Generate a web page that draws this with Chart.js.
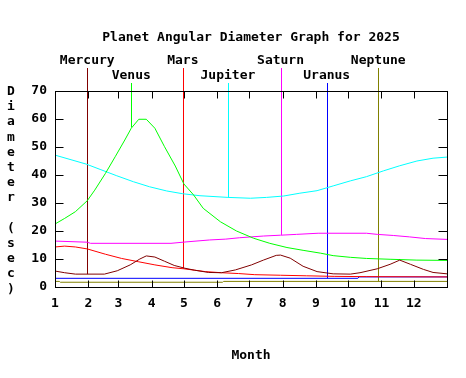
<!DOCTYPE html>
<html><head><meta charset="utf-8">
<script src="https://cdn.jsdelivr.net/npm/chart.js@4.4.1/dist/chart.umd.min.js"></script>
<style>html,body{margin:0;padding:0;background:#fff;}canvas{display:block;}</style>
</head><body>
<canvas id="c" width="466" height="378"></canvas>
<script>
const TITLE = 'Planet Angular Diameter Graph for 2025';
const X_TITLE = 'Month';
const Y_TITLE = 'Diameter (sec)';
const MONTH_LABELS = ['1','2','3','4','5','6','7','8','9','10','11','12'];
const MONTH_START_DAYS = [0,31,59,90,120,151,181,212,243,273,304,334];
const Y_TICKS = [0,10,20,30,40,50,60,70];

const PLANETS = ['Mercury','Venus','Mars','Jupiter','Saturn','Uranus','Neptune'];
const COLORS = ['#800000','#00ff00','#ff0000','#00ffff','#ff00ff','#0000ff','#808000'];

const MERCURY_DAYS = [0,9,19,46,58,70,79,85,93,102,111,121,130,143,155,168,183,194,206,210,219,231,244,259,275,284,300,312,321,331,343,352,365];
const MERCURY_VALUES = [5.7,5.1,4.6,4.6,5.8,7.9,10.0,11.1,10.7,9.2,7.7,6.7,6.0,5.2,5.1,6.1,7.9,9.6,11.3,11.4,10.3,7.4,5.5,4.7,4.6,5.1,6.5,8.1,9.6,8.1,6.3,5.2,4.7];

const VENUS_DAYS = [0,9,19,30,37,47,56,65,71,78,85,93,102,112,120,129,138,154,169,185,200,216,231,247,259,275,290,312,337,365];
const VENUS_VALUES = [22.5,24.5,26.9,30.8,34.6,40.6,46.5,52.5,56.7,59.9,59.9,56.7,50.1,43.2,36.8,32.9,28.1,23.3,20.0,17.4,15.6,14.1,13.1,12.1,11.2,10.6,10.2,9.9,9.6,9.5];

const MARS_DAYS = [0,9,19,30,47,62,78,93,109,120,140,155,171,186,210,234,260,290,365];
const MARS_VALUES = [14.3,14.6,14.3,13.6,11.7,10.2,9.0,7.9,6.9,6.5,5.5,5.1,4.8,4.4,4.2,4.0,3.8,3.7,3.6];

const JUPITER_DAYS = [0,29,42,57,73,88,104,119,135,161,182,197,213,228,244,259,275,290,306,321,337,352,365];
const JUPITER_VALUES = [47.1,43.9,42.0,39.8,37.6,35.8,34.3,33.3,32.6,32.0,31.7,32.0,32.5,33.5,34.4,36.1,37.9,39.4,41.5,43.3,45.0,46.0,46.4];

const SATURN_DAYS = [0,30,33,108,122,144,159,172,194,210,225,245,290,300,315,330,345,365];
const SATURN_VALUES = [16.4,16.0,15.6,15.6,16.1,16.8,17.1,17.6,18.2,18.5,18.8,19.2,19.2,18.8,18.4,17.9,17.3,17.0];

const URANUS_DAYS = [0,282,283,365];
const URANUS_VALUES = [3.1,3.1,3.6,3.6];

const NEPTUNE_DAYS = [0,4,5,156,157,365];
const NEPTUNE_VALUES = [2.0,2.0,1.7,1.7,2.0,2.0];

const MARKER_DAYS = [30,71,119,161,210,253,301];
const MARKER_VALUES = [4.6,57.0,6.6,32.0,18.6,3.1,2.0];

const SERIES_DAYS = [MERCURY_DAYS,VENUS_DAYS,MARS_DAYS,JUPITER_DAYS,SATURN_DAYS,URANUS_DAYS,NEPTUNE_DAYS];
const SERIES_VALUES = [MERCURY_VALUES,VENUS_VALUES,MARS_VALUES,JUPITER_VALUES,SATURN_VALUES,URANUS_VALUES,NEPTUNE_VALUES];

const FONT = '"DejaVu Sans Mono", "Liberation Mono", monospace';

const datasets = PLANETS.map((p, i) => ({
  label: p,
  data: SERIES_DAYS[i].map((d, j) => ({x: d, y: SERIES_VALUES[i][j]})),
  borderColor: COLORS[i],
  backgroundColor: COLORS[i],
  borderWidth: 1,
  pointRadius: 0,
  fill: false,
  tension: 0
}));

const decor = {
  id: 'decor',
  beforeDatasetsDraw(chart) {
    const {ctx, chartArea: a, scales: {x, y}} = chart;
    ctx.save();
    ctx.lineWidth = 1;
    MARKER_DAYS.forEach((d, i) => {
      const px = Math.round(x.getPixelForValue(d)) + 0.5;
      const yb = y.getPixelForValue(MARKER_VALUES[i]);
      const yt = i % 2 === 0 ? a.top - 23 : a.top - 8;
      ctx.strokeStyle = COLORS[i];
      ctx.beginPath(); ctx.moveTo(px, yt); ctx.lineTo(px, yb); ctx.stroke();
    });
    ctx.restore();
  },
  afterDatasetsDraw(chart) {
    const {ctx, chartArea: a, scales: {x, y}} = chart;
    ctx.save();
    ctx.strokeStyle = '#000';
    ctx.lineWidth = 1;
    const L = Math.round(a.left) + 0.5, R = Math.round(a.right) + 0.5;
    const T = Math.round(a.top) + 0.5, B = Math.round(a.bottom) + 0.5;
    ctx.strokeRect(L, T, R - L, B - T);
    ctx.beginPath();
    MONTH_START_DAYS.forEach(d => {
      const px = Math.round(x.getPixelForValue(d)) + 0.5;
      ctx.moveTo(px, T); ctx.lineTo(px, T + 7);
      ctx.moveTo(px, B); ctx.lineTo(px, B - 7);
    });
    Y_TICKS.forEach(v => {
      const py = Math.min(B, Math.max(T, Math.round(y.getPixelForValue(v)) + 0.5));
      ctx.moveTo(L, py); ctx.lineTo(L + 8, py);
      ctx.moveTo(R, py); ctx.lineTo(R - 9, py);
    });
    ctx.stroke();
    ctx.restore();
  },
  afterDraw(chart) {
    const {ctx, chartArea: a, scales: {x}} = chart;
    ctx.save();
    ctx.fillStyle = '#000';
    ctx.font = 'bold 13px ' + FONT;
    ctx.textAlign = 'center';
    ctx.textBaseline = 'middle';
    const cx = (a.left + a.right) / 2;
    ctx.fillText(TITLE, cx, a.top - 53.5);
    PLANETS.forEach((p, i) => {
      const px = x.getPixelForValue(MARKER_DAYS[i]);
      ctx.fillText(p, px, i % 2 === 0 ? a.top - 30 : a.top - 15.5);
    });
    ctx.fillText(X_TITLE, cx, a.bottom + 68.5);
    ctx.textBaseline = 'alphabetic';
    Y_TITLE.split('').forEach((ch, i) => {
      ctx.fillText(ch, 11, a.top + 4 + 15.2 * i);
    });
    ctx.restore();
  }
};

new Chart(document.getElementById('c'), {
  type: 'line',
  data: {datasets},
  options: {
    responsive: false,
    animation: false,
    devicePixelRatio: 1,
    layout: {padding: {top: 91, right: 19, left: 0, bottom: 0}},
    plugins: {legend: {display: false}, tooltip: {enabled: false}, title: {display: false}},
    font: {family: FONT, size: 13, weight: 'bold'},
    scales: {
      x: {
        type: 'linear', min: 0, max: 365,
        grid: {display: false, drawTicks: false},
        border: {display: false},
        afterBuildTicks: s => { s.ticks = MONTH_START_DAYS.map(v => ({value: v})); },
        afterFit: s => { s.height = 91; },
        ticks: {autoSkip: false, maxRotation: 0, minRotation: 0, padding: 9, color: '#000',
          font: {family: FONT, size: 13, weight: 'bold'},
          callback: (v, i) => MONTH_LABELS[i]}
      },
      y: {
        type: 'linear', min: 0, max: 70,
        grid: {display: false, drawTicks: false},
        border: {display: false},
        afterBuildTicks: s => { s.ticks = Y_TICKS.map(v => ({value: v})); },
        afterFit: s => { s.width = 55; },
        ticks: {padding: 8, color: '#000', font: {family: FONT, size: 13, weight: 'bold'},
          callback: v => String(v)}
      }
    }
  },
  plugins: [decor]
});
</script>
</body></html>
